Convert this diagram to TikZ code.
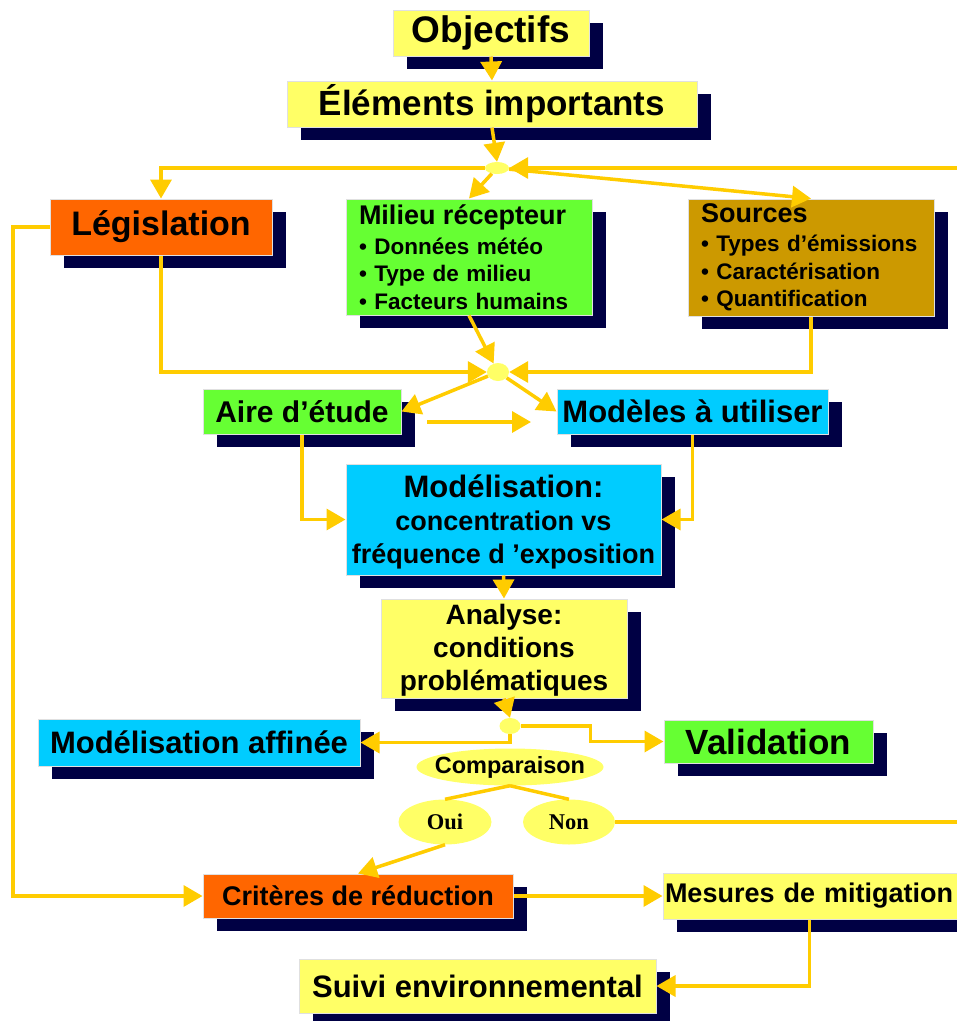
\documentclass[tikz,border=0pt]{standalone}
\usepackage{fontspec}
\setmainfont{Liberation Sans}
\newfontfamily\serifont{Liberation Serif}
\usetikzlibrary{arrows.meta,shadows,shapes.geometric,calc}
\definecolor{cyel}{HTML}{FFFF66}
\definecolor{corange}{HTML}{FF6600}
\definecolor{cgreen}{HTML}{66FF33}
\definecolor{cbrown}{HTML}{CC9900}
\definecolor{ccyan}{HTML}{00CCFF}
\definecolor{cshadow}{HTML}{000044}
\definecolor{cline}{HTML}{FFCC00}
\newcommand{\fsz}[2]{\fontsize{#1}{#2}\selectfont}
\begin{document}
\begin{tikzpicture}[x=1pt,y=-1pt,
  box/.style={draw=black!12, line width=1pt, inner sep=0pt, text=black, align=center,
    general shadow={fill=cshadow, shadow xshift=14pt, shadow yshift=-13pt}},
  conn/.style={draw=cline, line width=3.5pt},
  arr/.style={conn, -{Triangle[length=19pt,width=21pt]}},
  junc/.style={ellipse, fill=cyel, inner sep=0pt},
  oval/.style={ellipse, fill=cyel, inner sep=0pt, text=black}]
\useasboundingbox (0,0) rectangle (957,1021);
\clip (0,0) rectangle (957,1021);
\fill[white] (0,0) rectangle (957,1021);

% boxes
\node[box, fill=cyel, minimum width=196pt, minimum height=46pt, font=\bfseries\fsz{37}{40}] (obj) at (491,33) {Objectifs};
\node[box, fill=cyel, minimum width=410pt, minimum height=46pt, font=\bfseries\fsz{35}{40}] (elem) at (492,104) {Éléments importants};
\node[box, fill=corange, minimum width=222pt, minimum height=56pt, font=\bfseries\fsz{34}{40}] (leg) at (161,227) {Législation};
\node[box, fill=cgreen, minimum width=246pt, minimum height=116pt, text width=220pt, inner xsep=13pt, align=left, font=\bfseries\fsz{22.5}{27.5}] (mil) at (469,257)
  {{\fsz{27}{30}Milieu récepteur}\\[2pt]• Données météo\\• Type de milieu\\• Facteurs humains};
\node[box, fill=cbrown, minimum width=246pt, minimum height=117pt, text width=220pt, inner xsep=13pt, align=left, font=\bfseries\fsz{22.5}{27.5}] (src) at (811,257.5)
  {{\fsz{27}{30}Sources}\\[2pt]• Types d’émissions\\• Caractérisation\\• Quantification};
\node[box, fill=cgreen, minimum width=198pt, minimum height=45pt, font=\bfseries\fsz{30}{34}] (aire) at (302,411.5) {Aire d’étude};
\node[box, fill=ccyan, minimum width=271pt, minimum height=45pt, font=\bfseries\fsz{31}{34}] (mod) at (692.5,411.5) {Modèles à utiliser};
\node[box, fill=ccyan, minimum width=315pt, minimum height=111pt, text depth=0pt, font=\bfseries\fsz{27}{33}] (modl) at (503.5,519.5)
  {{\fsz{31}{33}Modélisation:}\\concentration vs\\fréquence d ’exposition};
\node[box, fill=cyel, minimum width=246pt, minimum height=99pt, text depth=2pt, font=\bfseries\fsz{28}{33}] (ana) at (504,648.5)
  {Analyse:\\conditions\\problématiques};
\node[box, fill=ccyan, minimum width=322pt, minimum height=47pt, font=\bfseries\fsz{31}{34}] (affi) at (199,742.5) {Modélisation affinée};
\node[box, fill=cgreen, minimum width=209pt, minimum height=43pt, font=\bfseries\fsz{35}{38}] (vali) at (768.5,741.5) {Validation};
\node[box, fill=corange, minimum width=310pt, minimum height=44pt, font=\bfseries\fsz{27}{30}] (crit) at (358,896) {Critères de réduction};
\node[box, fill=cyel, minimum width=330pt, minimum height=46pt, text width=326pt, inner xsep=2pt, align=left, font=\bfseries\fsz{27}{30}] (mes) at (828,896) {Mesures de mitigation};
\node[box, fill=cyel, minimum width=357pt, minimum height=54pt, font=\bfseries\fsz{31}{34}] (suiv) at (477.5,986) {Suivi environnemental};

% ovals and junctions
\node[junc, minimum width=24pt, minimum height=12pt] (j1) at (497,168) {};
\node[junc, minimum width=22pt, minimum height=18pt] (j2) at (498,372) {};
\node[junc, minimum width=21pt, minimum height=16pt] (j3) at (510,726) {};
\node[oval, minimum width=187pt, minimum height=37pt, font=\bfseries\fsz{23.5}{26}] (comp) at (510,767) {\makebox[0pt]{Comparaison}};
\node[oval, minimum width=93pt, minimum height=45pt, font=\serifont\bfseries\fsz{22.5}{25}] (oui) at (445,822) {\makebox[0pt]{Oui}};
\node[oval, minimum width=92pt, minimum height=45pt, font=\serifont\bfseries\fsz{22.5}{25}] (non) at (569,822) {\makebox[0pt]{Non}};

% free ends
\coordinate (re1) at (960,168);
\coordinate (re2) at (960,822);
\coordinate (m1) at (427,422);
\coordinate (m2) at (531,422);
\coordinate (lx) at (13,0);

% connectors
\draw[arr] (obj.south) -- (elem.north);
\draw[arr] (elem.south) -- (j1.north);
\draw[arr] (j1.west) -| (leg.north);
\draw[arr] (j1) -- (mil.north);
\draw[arr] (re1) -- (j1.east);
\draw[arr] (j1) -- (src.north);
\draw[arr] (leg.south) |- (j2.west);
\draw[arr] (src.south) |- (j2.east);
\draw[arr] (mil.south) -- (j2);
\draw[arr] (j2) -- (aire.east);
\draw[arr] (j2) -- (mod.west);
\draw[arr] (m1) -- (m2);
\draw[arr] (aire.south) |- (modl.west);
\draw[arr] (mod.south) |- (modl.east);
\draw[arr] (modl.south) -- (ana.north);
\draw[arr] (ana.south) -- (j3.north);
\draw[arr] (j3.south) |- (affi.east);
\draw[arr] (j3.east) -- ++(70,0) |- (vali.west);
\draw[conn] (comp.south) -- (oui.north);
\draw[conn] (comp.south) -- (non.north);
\draw[conn] (non.east) -- (re2);
\draw[arr] (oui.south) -- (crit.north);
\draw[arr] (leg.west) -- (leg.west -| lx) -- (crit.west -| lx) -- (crit.west);
\draw[arr] (crit.east) -- (mes.west);
\draw[arr] ($(mes.south west)+(147,0)$) |- (suiv.east);
\end{tikzpicture}
\end{document}
